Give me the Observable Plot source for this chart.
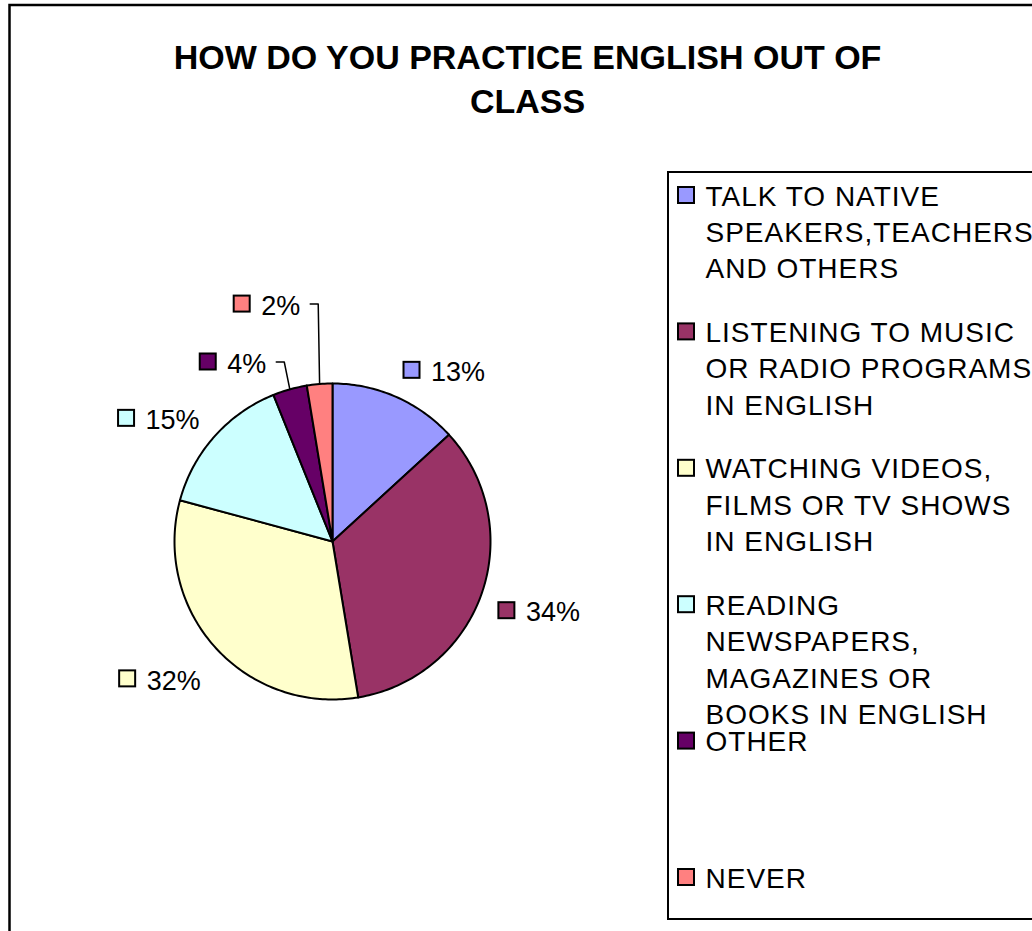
<!DOCTYPE html>
<html><head><meta charset="utf-8">
<script src="https://cdn.jsdelivr.net/npm/d3@7"></script>
<script src="https://cdn.jsdelivr.net/npm/@observablehq/plot@0.6"></script>
<style>
html,body{margin:0;padding:0;background:#fff;overflow:hidden;}
#chart{width:1032px;height:931px;overflow:hidden;}
.legend-text text{letter-spacing:1px;}
</style></head><body><div id="chart"></div>
<script>
// ---- data ----
const categories = [
  "TALK TO NATIVE\nSPEAKERS,TEACHERS\nAND OTHERS",
  "LISTENING TO MUSIC\nOR RADIO PROGRAMS\nIN ENGLISH",
  "WATCHING VIDEOS,\nFILMS OR TV SHOWS\nIN ENGLISH",
  "READING\nNEWSPAPERS,\nMAGAZINES OR\nBOOKS IN ENGLISH",
  "OTHER",
  "NEVER"
];
const shares = [13.2, 34.2, 31.8, 14.7, 3.5, 2.6];
const percentLabels = ["13%", "34%", "32%", "15%", "4%", "2%"];
const colors = ["#9999FF", "#993366", "#FFFFCC", "#CCFFFF", "#660066", "#FF8080"];
const titleLines = ["HOW DO YOU PRACTICE ENGLISH OUT OF", "CLASS"];

// ---- layout (pixels) ----
const W = 1032, H = 931;
const CX = 332, CY = 541, R = 158;      // pie centre & radius
const ux = px => (px - CX) / R;          // pixel -> unit coordinates
const uy = py => (CY - py) / R;
const FONT = "Liberation Sans, Arial, sans-serif";
const PCT_FS = 27, LEG_FS = 28, TITLE_FS = 34;
const LABEL_R = 175;
const nudges = [[0,0],[0,0],[0,8],[0,4],[-17,0],[-16,-52]];
const hasLeader = [false, false, false, false, true, true];
const SWH = 8; // half side of swatch squares

const ctx = document.createElement("canvas").getContext("2d");
ctx.font = `${PCT_FS}px "Liberation Sans"`;

const pie = d3.pie().sort(null).value(d => d)(shares);

// slice outlines
const slicePts = [];
pie.forEach((p, i) => {
  const cat = categories[i];
  slicePts.push({cat, x: 0, y: 0});
  const steps = Math.max(2, Math.ceil((p.endAngle - p.startAngle) / (Math.PI / 180)));
  for (let k = 0; k <= steps; k++) {
    const a = p.startAngle + (p.endAngle - p.startAngle) * k / steps;
    slicePts.push({cat, x: Math.sin(a), y: Math.cos(a)});
  }
});

const swatch = (cat, px, py) => ({cat, x1: ux(px - SWH), x2: ux(px + SWH), y1: uy(py - SWH), y2: uy(py + SWH)});

// data labels
const labelSw = [], labelTx = [], leaders = [];
pie.forEach((p, i) => {
  const mid = (p.startAngle + p.endAngle) / 2;
  const ax = CX + LABEL_R * Math.sin(mid), ay = CY - LABEL_R * Math.cos(mid);
  const tw = ctx.measureText(percentLabels[i]).width;
  const right = Math.sin(mid) > 0, top = Math.cos(mid) > 0;
  let left = right ? ax + 1 : ax - 2 - tw - 27;
  let cy = top ? ay - 11 : ay + 12;
  const [nx, ny] = nudges[i];
  left += nx; cy += ny;
  labelSw.push(swatch(categories[i], left + 8, cy));
  labelTx.push({text: percentLabels[i], x: ux(left + 27), y: uy(cy + 1 - 0.32 * PCT_FS + 9.7)});
  if (hasLeader[i]) {
    const te = left + 27 + tw;
    leaders.push({id: i, x: ux(te + 10), y: uy(cy)});
    leaders.push({id: i, x: ux(te + 18), y: uy(cy)});
    leaders.push({id: i, x: Math.sin(mid), y: Math.cos(mid)});
  }
});

// legend
const LEG_X = 668, LEG_TOP = 172, LEG_BOTTOM = 919;
const legSw = [], legTx = [];
categories.forEach((c, i) => {
  const b0 = 205 + 136.4 * i;
  legSw.push(swatch(c, 686, b0 - 10));
  c.split("\n").forEach((line, j) => {
    legTx.push({text: line, x: ux(705), y: uy(b0 + 36.4 * j - 0.32 * LEG_FS)});
  });
});

const titleRows = titleLines.map((t, j) => ({text: t, x: ux(527), y: uy([68.3, 112][j] - 0.32 * TITLE_FS)}));

const frames = [
  {x1: ux(9.5), x2: ux(W + 30), y1: uy(5), y2: uy(H + 30)},
  {x1: ux(LEG_X), x2: ux(W + 30), y1: uy(LEG_TOP), y2: uy(LEG_BOTTOM)}
];

const chart = Plot.plot({
  width: W, height: H, margin: 0,
  x: {domain: [ux(0), ux(W)], range: [0, W], axis: null},
  y: {domain: [uy(H), uy(0)], range: [H, 0], axis: null},
  color: {type: "ordinal", domain: categories, range: colors},
  style: {fontFamily: FONT, background: "white", overflow: "hidden"},
  marks: [
    Plot.rect(frames.slice(0,1), {x1: "x1", x2: "x2", y1: "y1", y2: "y2", stroke: "black", strokeWidth: 2.5, fill: "none"}),
    Plot.rect(frames.slice(1), {x1: "x1", x2: "x2", y1: "y1", y2: "y2", stroke: "black", strokeWidth: 2, fill: "white"}),
    Plot.line(slicePts, {x: "x", y: "y", z: "cat", fill: "cat", stroke: "black", strokeWidth: 2, curve: "linear-closed", strokeLinejoin: "round"}),
    Plot.line(leaders, {x: "x", y: "y", z: "id", stroke: "black", strokeWidth: 1.5}),
    Plot.rect(labelSw, {x1: "x1", x2: "x2", y1: "y1", y2: "y2", fill: "cat", stroke: "black", strokeWidth: 2}),
    Plot.text(labelTx, {x: "x", y: "y", text: "text", textAnchor: "start", fontSize: PCT_FS, fill: "black", fontFamily: FONT}),
    Plot.rect(legSw, {x1: "x1", x2: "x2", y1: "y1", y2: "y2", fill: "cat", stroke: "black", strokeWidth: 2}),
    Plot.text(legTx, {x: "x", y: "y", text: "text", textAnchor: "start", fontSize: LEG_FS, fill: "black", fontFamily: FONT, className: "legend-text"}),
    Plot.text(titleRows, {x: "x", y: "y", text: "text", textAnchor: "middle", fontSize: TITLE_FS, fontWeight: "bold", fill: "black", fontFamily: FONT})
  ]
});
document.getElementById("chart").appendChild(chart);
</script></body></html>
